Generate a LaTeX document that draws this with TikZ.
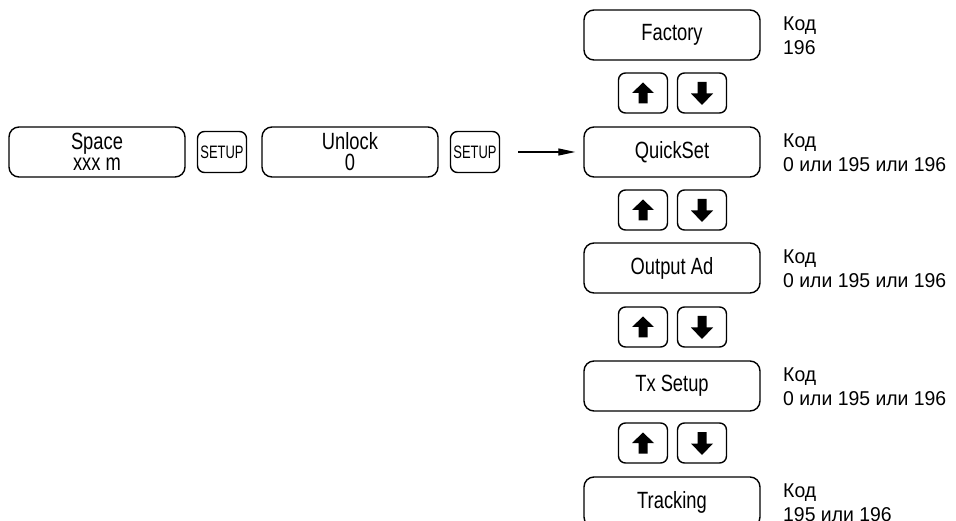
\documentclass[tikz,border=0pt]{standalone}
\usepackage{fontspec}
\setmainfont[FakeStretch=0.97]{Liberation Sans}
\newfontfamily\menufont[FakeStretch=0.78]{Liberation Sans}
\newfontfamily\keyfont[FakeStretch=0.72]{Liberation Sans}
\usetikzlibrary{arrows.meta,positioning}

\tikzset{
  menubox/.style={draw, line width=1.4pt, rounded corners=10pt, minimum width=176pt,
    minimum height=50pt, inner sep=0pt, align=center, font=\menufont\fontsize{23.5}{21}\selectfont},
  keybox/.style={draw, line width=1.4pt, rounded corners=7pt, minimum width=49pt,
    minimum height=41pt, inner sep=0pt},
  setupkey/.style={keybox, font=\keyfont\fontsize{18}{18}\selectfont},
  upkey/.style={keybox, minimum height=40pt, path picture={
    \fill[sharp corners] (path picture bounding box.center) +(0pt,10.5pt) -- +(11pt,0pt) -- +(4.5pt,0pt)
      -- +(4.5pt,-10.5pt) -- +(-4.5pt,-10.5pt) -- +(-4.5pt,0pt) -- +(-11pt,0pt) -- cycle;}},
  downkey/.style={keybox, minimum height=40pt, path picture={
    \fill[sharp corners] (path picture bounding box.center) +(0pt,-12pt) -- +(11pt,-0.5pt) -- +(4.5pt,-0.5pt)
      -- +(4.5pt,11pt) -- +(-4.5pt,11pt) -- +(-4.5pt,-0.5pt) -- +(-11pt,-0.5pt) -- cycle;}},
  codetext/.style={anchor=west, align=left, inner sep=0pt, font=\fontsize{20}{24}\selectfont},
}

\begin{document}
\begin{tikzpicture}[x=1pt, y=-1pt]
    \useasboundingbox (0,0) rectangle (956,521);
    \clip (0,0) rectangle (956,521);

    % entry row
    \node[menubox] (space) at (97,152) {Space\\xxx m};
    \node[setupkey] (set1) at (222,152) {SETUP};
    \node[menubox] (unlock) at (350,152) {Unlock\\0};
    \node[setupkey] (set2) at (475,152) {SETUP};

    % menu column
    \foreach \name/\txt/\y in {fac/Factory/35, quick/QuickSet/152, out/Output Ad/268,
                               tx/Tx Setup/386, track/Tracking/502}
        \node[menubox] (\name) at (672,\y) {\txt};

    % up / down keys
    \foreach \y [count=\i] in {93,210,327,443} {
        \node[upkey] (up\i) at (643,\y) {};
        \node[downkey] (down\i) at (702,\y) {};
    }

    % codes
    \node[codetext] (cfac) at (783,36) {Код\\196};
    \node[codetext] (cquick) at (783,153) {Код\\0 или 195 или 196};
    \node[codetext] (cout) at (783,269) {Код\\0 или 195 или 196};
    \node[codetext] (ctx) at (783,387) {Код\\0 или 195 или 196};
    \node[codetext] (ctrack) at (783,503) {Код\\195 или 196};

    % entry arrow
    \draw[-{Triangle[length=17pt,width=7pt]}, line width=1.2pt, shorten <=18pt, shorten >=8pt]
        (set2) -- (quick);
\end{tikzpicture}
\end{document}
